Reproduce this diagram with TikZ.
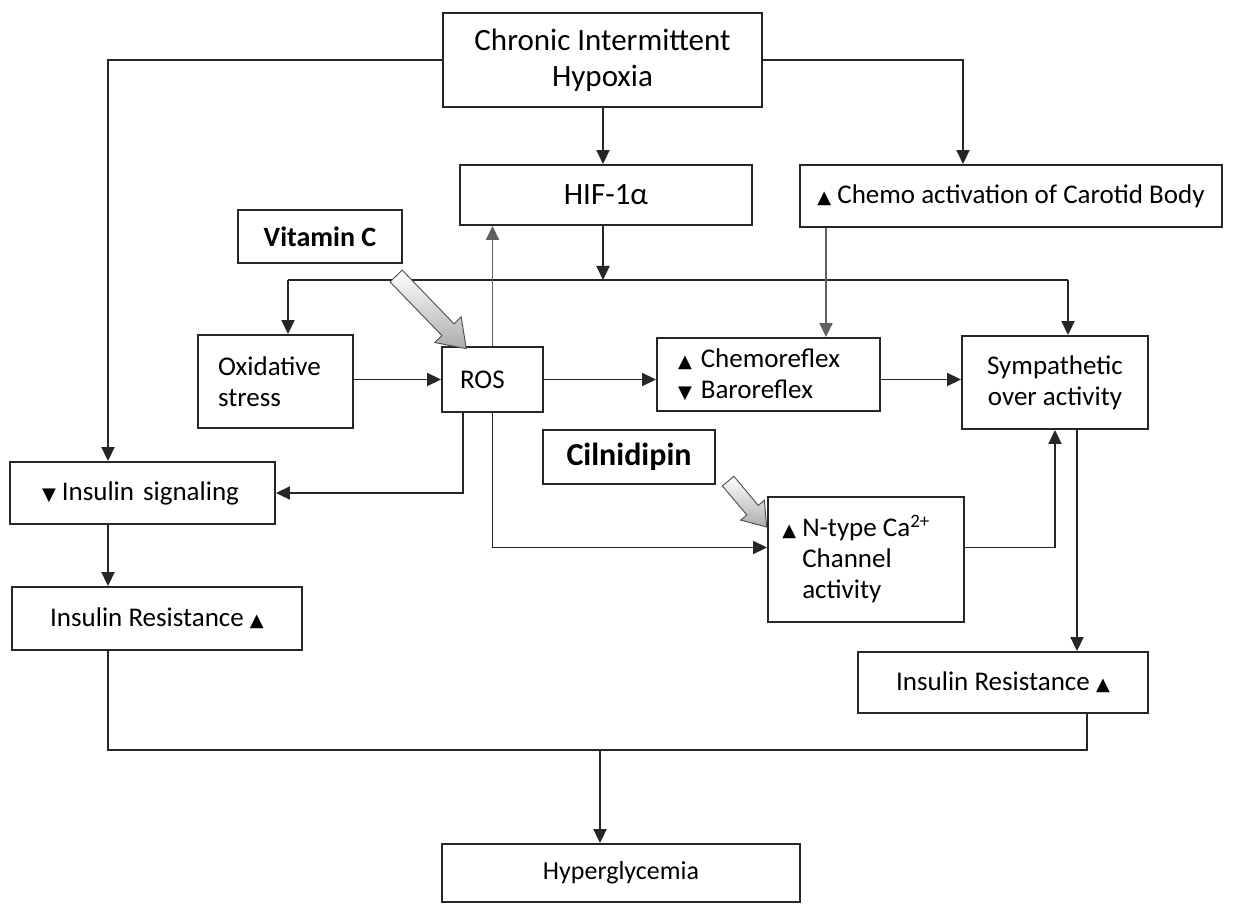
\documentclass[tikz,border=0pt]{standalone}
\usepackage{fontspec}
\setmainfont{Carlito}
\newfontfamily\symfont{DejaVu Sans}
\usetikzlibrary{
  arrows.meta,
  shapes.arrows,
  calc
}
\newcommand{\uparr}{{\symfont\fontsize{18}{18}\selectfont ▲}}
\newcommand{\dnarr}{{\symfont\fontsize{18}{18}\selectfont ▼}}
\tikzset{
  box/.style={
    draw=black!85,
    line width=1.9pt,
    fill=white,
    inner sep=0pt,
    font=\fontsize{27}{31}\selectfont,
  },
  drugbox/.style={
    box,
    font=\bfseries\fontsize{28}{32}\selectfont,
  },
  arr/.style={
    -{Triangle[length=14pt,width=13pt]},
    line width=1.9pt,
    draw=black!85,
  },
  arrg/.style={
    arr,
    draw=gray!75!black,
  },
  link/.style={
    line width=1.9pt,
    draw=black!85,
  },
  fatarr/.style={
    single arrow,
    draw=black!70,
    line width=0.9pt,
    top color=white,
    bottom color=gray!65,
    inner sep=0pt,
    inner ysep=8pt,
    single arrow head extend=10pt,
    single arrow tip angle=70,
  },
}

\begin{document}
\begin{tikzpicture}[x=1pt, y=-1pt]
  \useasboundingbox (0,0) rectangle (1243,904);

  % --- top row ---
  \node[box, minimum width=319pt, minimum height=94pt, align=center,
    font=\fontsize{31}{36}\selectfont] (cih) at (602.5,60) {Chronic Intermittent\\Hypoxia};
  \node[box, minimum width=292pt, minimum height=60pt,
    font=\fontsize{31}{36}\selectfont] (hif) at (606,195) {HIF-1α};
  \node[box, minimum width=422pt, minimum height=62pt] (carotid) at (1011,196)
    {\uparr\ Chemo activation of Carotid Body};
  \node[drugbox, minimum width=164pt, minimum height=53pt] (vitc) at (320,236.5) {Vitamin C};

  % --- middle row ---
  \node[box, minimum width=155pt, minimum height=93pt, text width=115pt, align=left]
    (oxs) at (275.5,381.5) {Oxidative\\stress};
  \node[box, minimum width=101pt, minimum height=65pt, text width=65pt, align=left]
    (ros) at (492.5,379.5) {ROS};
  \node[box, minimum width=223pt, minimum height=73pt, text width=181pt, align=left]
    (chemo) at (768.5,374.5) {\uparr\ Chemoreflex\\\dnarr\ Baroreflex};
  \node[box, minimum width=186pt, minimum height=93pt, align=center]
    (symp) at (1055,382.5) {Sympathetic\\over activity};

  % --- lower part ---
  \node[box, minimum width=265pt, minimum height=62pt, text width=201pt, align=left]
    (inssig) at (142.5,493) {\dnarr\hspace{6pt}Insulin signaling};
  \node[drugbox, minimum width=172pt, minimum height=54pt,
    font=\bfseries\fontsize{32}{36}\selectfont] (cil) at (629,457) {Cilnidipin};
  \node[box, minimum width=196pt, minimum height=125pt, align=left]
    (ntype) at (866,559.5) {\llap{\uparr\ }N-type Ca\textsuperscript{2+}\\Channel\\activity};
  \node[box, minimum width=290pt, minimum height=63pt] (irl) at (157,618.5)
    {Insulin Resistance \uparr};
  \node[box, minimum width=290pt, minimum height=61pt] (irr) at (1003,682.5)
    {Insulin Resistance \uparr};
  \node[box, minimum width=358pt, minimum height=58pt,
    font=\fontsize{26}{30}\selectfont] (hyper) at (621,873) {Hyperglycemia};

  % --- helper coordinates ---
  \coordinate (lx) at (108,0);
  \coordinate (hx) at (603,0);
  \coordinate (rx) at (963,0);
  \coordinate (cx) at (826,0);
  \coordinate (sx) at (1077,0);
  \coordinate (irx) at (1087,0);
  \coordinate (busl) at (288,280);
  \coordinate (busr) at (1068,280);
  \coordinate (jn) at (600,750);

  % --- connectors ---
  \draw[arr] (cih.west) -| (lx |- inssig.north);
  \draw[arr] (hx |- cih.south) -- (hx |- hif.north);
  \draw[arr] (cih.east) -| (rx |- carotid.north);
  \draw[arr] (hx |- hif.south) -- (hx |- busl);
  \draw[link] (busl) -- (busr);
  \draw[arr] (busl) -- (busl |- oxs.north);
  \draw[arr] (busr) -- (busr |- symp.north);
  \draw[arrg] (ros.north) -- (ros.north |- hif.south);
  \draw[arrg] (cx |- carotid.south) -- (cx |- chemo.north);
  \draw[arr] (ros.west -| oxs.east) -- (ros.west);
  \draw[arr] (ros.east) -- (ros.east -| chemo.west);
  \draw[arr] (ros.east -| chemo.east) -- (ros.east -| symp.west);
  \draw[arr] ([xshift=-29.5pt]ros.south) |- (inssig.east);
  \draw[arr] (ros.south) |- ([yshift=12pt]ntype.west);
  \draw[arr] ([yshift=12pt]ntype.east) -| (symp.south);
  \draw[arr] (sx |- symp.south) -- (sx |- irr.north);
  \draw[arr] (lx |- inssig.south) -- (lx |- irl.north);
  \draw[link] (lx |- irl.south) |- (jn);
  \draw[link] (irx |- irr.south) |- (jn);
  \draw[arr] (jn) -- (jn |- hyper.north);

  % --- drug arrows ---
  \node[fatarr, minimum height=101pt, rotate=-46] (vitarr) at (427,308) {};
  \node[fatarr, minimum height=60pt, inner ysep=7pt, single arrow head extend=8pt,
    rotate=-50] (cilarr) at (744,500) {};
\end{tikzpicture}
\end{document}
